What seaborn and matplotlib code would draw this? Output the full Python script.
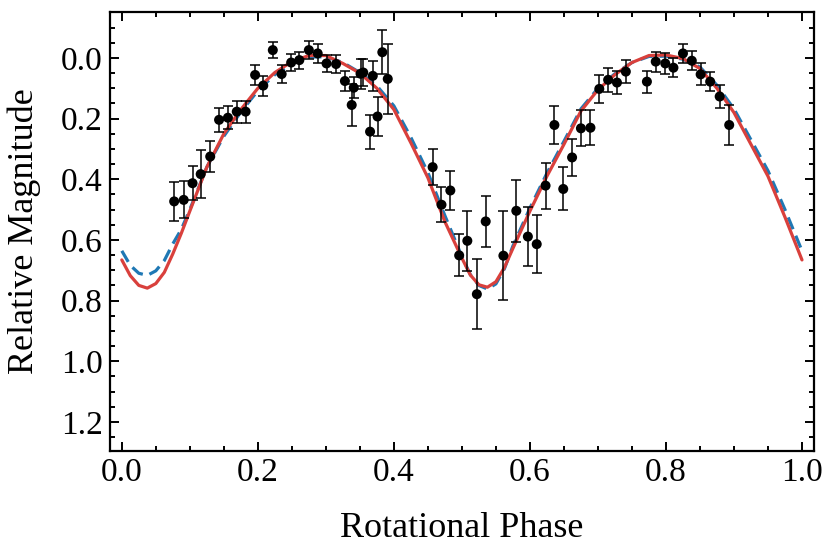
import matplotlib
matplotlib.use("Agg")
import matplotlib.pyplot as plt
import seaborn as sns
from matplotlib.ticker import MultipleLocator, FormatStrFormatter

# observed points: phase, relative magnitude, error
phase = [0.077, 0.091, 0.104, 0.116, 0.130, 0.143, 0.156, 0.169, 0.182, 0.196,
         0.208, 0.222, 0.235, 0.249, 0.261, 0.275, 0.288, 0.301, 0.315, 0.328,
         0.338, 0.341, 0.351, 0.355, 0.365, 0.369, 0.376, 0.383, 0.391, 0.457,
         0.470, 0.483, 0.496, 0.508, 0.522, 0.535, 0.561, 0.580, 0.597, 0.610,
         0.623, 0.636, 0.649, 0.662, 0.675, 0.689, 0.702, 0.715, 0.728, 0.741,
         0.772, 0.785, 0.799, 0.811, 0.825, 0.838, 0.851, 0.865, 0.879, 0.893]
mag = [0.473, 0.468, 0.413, 0.383, 0.325, 0.204, 0.197, 0.177, 0.177, 0.056,
       0.091, -0.026, 0.053, 0.015, 0.007, -0.026, -0.015, 0.018, 0.020, 0.076,
       0.155, 0.098, 0.052, 0.048, 0.243, 0.059, 0.193, -0.019, 0.069, 0.360,
       0.484, 0.437, 0.651, 0.603, 0.779, 0.539, 0.652, 0.504, 0.589, 0.614,
       0.421, 0.221, 0.432, 0.328, 0.232, 0.230, 0.102, 0.072, 0.081, 0.045,
       0.078, 0.012, 0.018, 0.032, -0.015, 0.009, 0.054, 0.078, 0.127, 0.221]
mag_err = [0.065, 0.061, 0.056, 0.080, 0.050, 0.040, 0.037, 0.036, 0.036, 0.033,
           0.033, 0.027, 0.031, 0.027, 0.028, 0.030, 0.030, 0.029, 0.030, 0.032,
           0.070, 0.035, 0.050, 0.045, 0.056, 0.050, 0.064, 0.072, 0.115, 0.060,
           0.058, 0.065, 0.069, 0.099, 0.115, 0.085, 0.147, 0.103, 0.097, 0.096,
           0.076, 0.063, 0.071, 0.062, 0.059, 0.057, 0.047, 0.040, 0.038, 0.037,
           0.036, 0.033, 0.036, 0.032, 0.032, 0.031, 0.036, 0.032, 0.037, 0.066]

# model curves (denser near the minima)
model_phase = [0.000, 0.0125, 0.025, 0.0375, 0.050, 0.0625, 0.075, 0.0875, 0.100,
               0.125, 0.150, 0.175, 0.200, 0.225, 0.250, 0.275, 0.300, 0.325,
               0.350, 0.375, 0.400, 0.425, 0.450, 0.475, 0.500, 0.5125, 0.525,
               0.5375, 0.550, 0.5625, 0.575, 0.600, 0.625, 0.650, 0.675, 0.700,
               0.725, 0.750, 0.775, 0.800, 0.825, 0.850, 0.875, 0.900, 0.925,
               0.950, 0.975, 1.000]
model_red = [0.666, 0.718, 0.750, 0.759, 0.744, 0.707, 0.646, 0.578, 0.505,
             0.360, 0.250, 0.170, 0.100, 0.048, 0.012, -0.008, -0.008, 0.018,
             0.050, 0.100, 0.170, 0.280, 0.395, 0.540, 0.660, 0.716, 0.748,
             0.756, 0.738, 0.691, 0.628, 0.505, 0.390, 0.285, 0.175, 0.105,
             0.055, 0.015, -0.008, -0.010, 0.002, 0.035, 0.100, 0.180, 0.285,
             0.390, 0.525, 0.666]
model_blue = [0.636, 0.684, 0.710, 0.717, 0.702, 0.668, 0.613, 0.565, 0.500,
              0.360, 0.258, 0.178, 0.108, 0.055, 0.018, -0.003, -0.004, 0.015,
              0.048, 0.092, 0.158, 0.262, 0.378, 0.520, 0.655, 0.715, 0.750,
              0.762, 0.745, 0.695, 0.620, 0.495, 0.380, 0.275, 0.168, 0.100,
              0.052, 0.015, -0.005, -0.006, 0.004, 0.030, 0.090, 0.168, 0.270,
              0.372, 0.500, 0.636]

sns.set_style("ticks")
plt.rcParams['font.family'] = ['Liberation Serif', 'DejaVu Serif']
for key in ['text.color', 'axes.labelcolor', 'xtick.color', 'ytick.color', 'axes.edgecolor']:
    plt.rcParams[key] = 'black'

fig, ax = plt.subplots(figsize=(8.3, 5.54), dpi=100)
fig.subplots_adjust(left=0.132, right=0.981, top=0.978, bottom=0.186)

sns.lineplot(x=model_phase, y=model_blue, ax=ax, color="#1f78b4", lw=2.3,
             linestyle=(0, (4.0, 2.2)), zorder=2)
sns.lineplot(x=model_phase, y=model_red, ax=ax, color="#d9403c", lw=2.3, zorder=3)

ax.errorbar(phase, mag, yerr=mag_err, fmt="none", ecolor="black", elinewidth=1.1,
            capsize=3.8, capthick=1.1, zorder=4)
sns.scatterplot(x=phase, y=mag, ax=ax, color="black", s=52, edgecolor="none", zorder=5)

ax.set_xlim(-0.018, 1.018)
ax.set_ylim(1.296, -0.151)
ax.xaxis.set_major_locator(MultipleLocator(0.2))
ax.xaxis.set_minor_locator(MultipleLocator(0.05))
ax.yaxis.set_major_locator(MultipleLocator(0.2))
ax.yaxis.set_minor_locator(MultipleLocator(0.05))
ax.xaxis.set_major_formatter(FormatStrFormatter("%.1f"))
ax.yaxis.set_major_formatter(FormatStrFormatter("%.1f"))

ax.tick_params(which="both", direction="in", top=True, right=True, labelsize=24, width=1.4)
ax.tick_params(which="major", length=6.5, pad=5)
ax.tick_params(which="minor", length=3.5)
for s in ax.spines.values():
    s.set_linewidth(1.6)

ax.set_xlabel("Rotational Phase", fontsize=26, labelpad=17)
ax.set_ylabel("Relative Magnitude", fontsize=26, labelpad=14)

fig.savefig("out.png", dpi=100)
